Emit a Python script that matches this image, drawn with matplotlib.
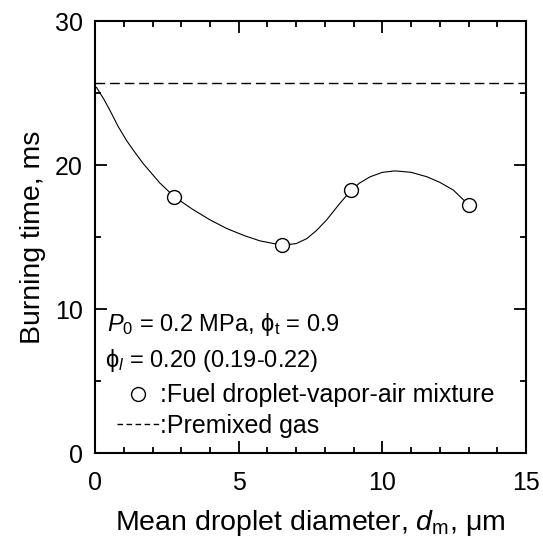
import matplotlib
matplotlib.use('Agg')
import matplotlib.pyplot as plt
from matplotlib.lines import Line2D
from matplotlib.ticker import MultipleLocator

plt.rcParams['font.family'] = ['Liberation Sans', 'DejaVu Sans']
plt.rcParams['mathtext.fontset'] = 'custom'
plt.rcParams['mathtext.rm'] = 'Liberation Sans'
plt.rcParams['mathtext.it'] = 'Liberation Sans:italic'
plt.rcParams['mathtext.fallback'] = 'stixsans'

# measured points (droplet-vapor-air mixture)
diam = [2.76, 6.5, 8.91, 13.02]
burn = [17.8, 14.44, 18.26, 17.2]

# hand-drawn fit curve
curve_x = [0.05, 0.3, 0.52, 0.8, 1.1, 1.4, 1.68, 2.0, 2.26, 2.76, 3.42, 4.0, 4.58, 5.2,
           5.74, 6.5, 7.0, 7.37, 7.7, 8.06, 8.5, 8.91, 9.2, 9.57, 10.0, 10.44, 11.0,
           11.55, 12.0, 12.47, 13.02]
curve_y = [25.4, 24.6, 23.8, 22.7, 21.7, 20.85, 20.1, 19.35, 18.75, 17.8, 16.9, 16.2,
           15.6, 15.1, 14.74, 14.44, 14.55, 14.9, 15.45, 16.2, 17.3, 18.26, 18.75, 19.19,
           19.5, 19.6, 19.5, 19.19, 18.8, 18.26, 17.2]

premixed = 25.67

fig = plt.figure(figsize=(5.43, 5.42), dpi=100)
ax = fig.add_axes([0.175, 0.164, 0.794, 0.797])

ax.plot(curve_x, curve_y, color='black', lw=0.8)
ax.plot(diam, burn, 'o', ms=10, mfc='white', mec='black', mew=1.0)
ax.axhline(premixed, color='black', lw=1.0, dashes=(7, 3.5))

ax.set_xlim(0, 15)
ax.set_ylim(0, 30)
ax.xaxis.set_major_locator(MultipleLocator(5))
ax.xaxis.set_minor_locator(MultipleLocator(1))
ax.yaxis.set_major_locator(MultipleLocator(10))
ax.yaxis.set_minor_locator(MultipleLocator(5))
ax.tick_params(which='both', direction='in', top=True, right=True, width=1.3)
ax.tick_params(which='major', length=8.5, labelsize=18)
ax.tick_params(axis='x', which='major', pad=13)
ax.tick_params(axis='y', which='major', pad=9)
ax.tick_params(which='minor', length=4.3)
for s in ax.spines.values():
    s.set_linewidth(1.5)

ax.set_xlabel(r'Mean droplet diameter, $d_{\rm m}$, μm', fontsize=20.5, labelpad=9)
ax.set_ylabel('Burning time, ms', fontsize=20.5, labelpad=6)

ax.text(0.4, 8.9, r'$P_{\rm 0}$ = 0.2 MPa, ϕ$_{\rm t}$ = 0.9', fontsize=17, va='center')
ax.text(0.35, 6.4, r'ϕ$_l$ = 0.20 (0.19-0.22)', fontsize=17, va='center')

handles = [Line2D([], [], ls='none', marker='o', ms=10, mfc='white', mec='black', mew=1.0),
           Line2D([], [], color='black', lw=1.0, dashes=(4, 2.5))]
ax.legend(handles, [':Fuel droplet-vapor-air mixture', ':Premixed gas'],
          loc='lower left', bbox_to_anchor=(0.05, 0.036), frameon=False, fontsize=18,
          handlelength=1.75, handletextpad=0.0, labelspacing=0.25, borderpad=0,
          borderaxespad=0)

fig.savefig('out.png', dpi=100)
